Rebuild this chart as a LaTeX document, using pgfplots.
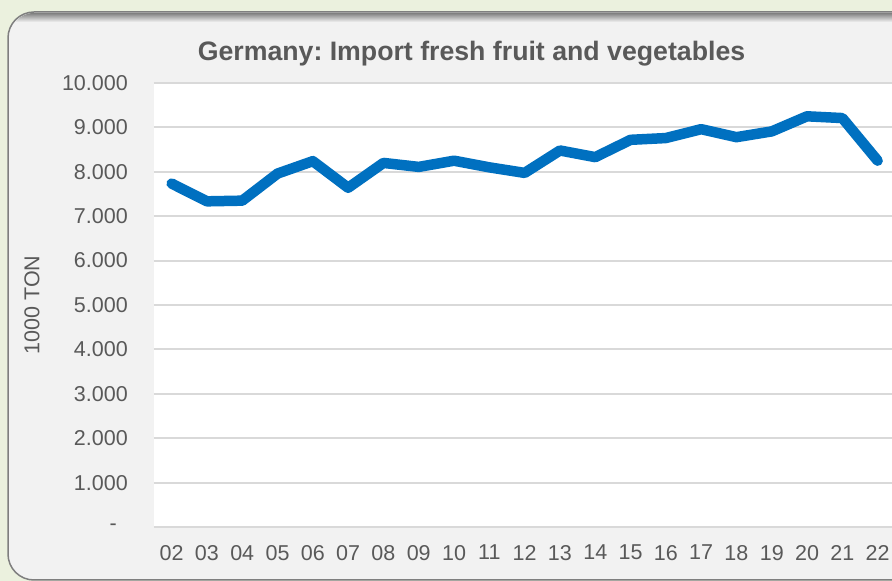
\documentclass[border=0pt]{standalone}
\usepackage{pgfplots}
\pgfplotsset{compat=1.18}
\usepackage{fontspec}
\setmainfont{Liberation Sans}
\frenchspacing
\definecolor{bggreen}{HTML}{EBF1DE}
\definecolor{panel}{HTML}{F2F2F2}
\definecolor{panelborder}{HTML}{7F7F7F}
\definecolor{txtgray}{HTML}{595959}
\definecolor{gridgray}{HTML}{D9D9D9}
\definecolor{lineblue}{HTML}{0070C0}
\begin{document}
\begin{tikzpicture}
\useasboundingbox (0pt,0pt) rectangle (892pt,581pt);
\clip (0pt,0pt) rectangle (892pt,581pt);
\fill[bggreen] (0pt,0pt) rectangle (892pt,581pt);
\path[fill=panel,draw=panelborder,line width=1.5pt,rounded corners=26pt] (8pt,1pt) rectangle (920pt,569pt);
\begin{scope}
\clip[rounded corners=26pt] (8.8pt,1.8pt) rectangle (919pt,568.2pt);
\shade[top color=black!55,bottom color=panel] (8pt,559pt) rectangle (920pt,569pt);
\end{scope}
\node[anchor=base,font=\fontsize{26.7}{31}\selectfont\bfseries,text=txtgray] at (471.5pt,520pt) {Germany: Import fresh fruit and vegetables};
\begin{axis}[
  at={(154pt,54pt)}, anchor=south west,
  width=741.3pt, height=444pt, scale only axis,
  xmin=-0.5, xmax=20.5, ymin=0, ymax=10000,
  scaled y ticks=false,
  axis background/.style={fill=white},
  axis line style={draw=none},
  major tick length=0pt,
  xtick={0,...,20},
  xticklabels={02,03,04,05,06,07,08,09,10,11,12,13,14,15,16,17,18,19,20,21,22},
  ytick={0,1000,...,10000},
  yticklabels={-\rule{11pt}{0pt},1.000,2.000,3.000,4.000,5.000,6.000,7.000,8.000,9.000,10.000},
  ymajorgrids,
  grid style={gridgray,line width=2pt},
  xticklabel style={font=\fontsize{21.5}{25}\selectfont,text=txtgray,anchor=north,inner sep=0pt,yshift=-18pt},
  yticklabel style={font=\fontsize{21.5}{25}\selectfont,text=txtgray,anchor=east,inner sep=0pt,xshift=-26pt},
  ylabel={1000 TON},
  every axis y label/.style={at={(axis description cs:0,0.5)},xshift=-122pt,rotate=90,anchor=center,font=\fontsize{21.5}{25}\selectfont,text=txtgray},
  clip=false,
]
\addplot[lineblue,line width=10.5pt,line join=round,line cap=round] coordinates {
(0,7735) (1,7335) (2,7350) (3,7960) (4,8240) (5,7640) (6,8200) (7,8110) (8,8250) (9,8100) (10,7975) (11,8480) (12,8330) (13,8720) (14,8760) (15,8960) (16,8780) (17,8910) (18,9250) (19,9210) (20,8250)
};
\end{axis}
\end{tikzpicture}
\end{document}
